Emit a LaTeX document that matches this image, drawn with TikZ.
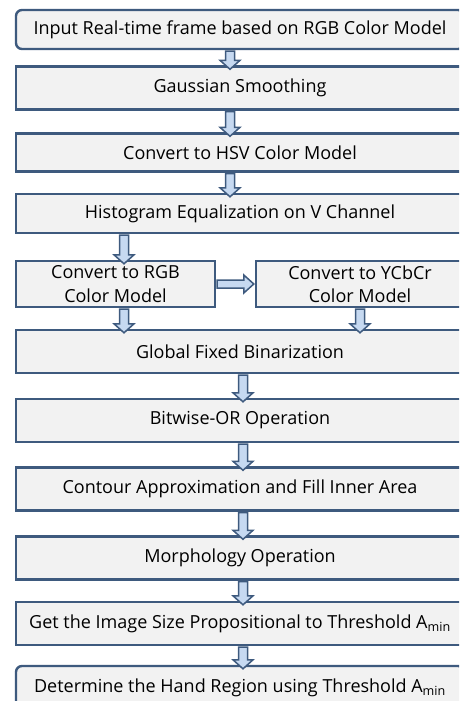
\documentclass[tikz,border=0pt]{standalone}
\usepackage{fontspec}
\setmainfont{Open Sans}
\usetikzlibrary{calc}
\definecolor{edge}{HTML}{3E5A7E}
\definecolor{boxfill}{HTML}{F2F2F2}
\definecolor{arrfill}{HTML}{C6D9F1}
\begin{document}
\begin{tikzpicture}[x=1pt,y=-1pt,
  stepbox/.style={draw=edge,line width=2.4pt,fill=boxfill,inner sep=0pt,
    font=\fontsize{18}{23.5}\selectfont,align=center},
  blockarrow/.style={draw=edge,line width=1.5pt,fill=arrfill,line join=miter}]
\useasboundingbox (0,0) rectangle (459,701);
\clip (0,0) rectangle (459,701);
% down arrow from the bottom of box #2 to the top of box #3, at the x of coordinate #1
\newcommand\downarr[3]{%
  \draw[blockarrow] let \p1=(#2.south -| #1), \p2=(#3.north -| #1) in
    (\x1-4.5pt,\y1-1pt) -- (\x1+4.5pt,\y1-1pt) -- (\x1+4.5pt,\y2+5pt)
    -- (\x1+10pt,\y2+5pt) -- (\x1,\y2-4pt) -- (\x1-10pt,\y2+5pt)
    -- (\x1-4.5pt,\y2+5pt) -- cycle;}
% step boxes
\node[stepbox,rounded corners=6pt,minimum width=448pt,minimum height=39pt] (b1) at (240,29.5)
  {Input Real-time frame based on RGB Color Model};
\node[stepbox,minimum width=448pt,minimum height=43pt] (b2) at (240,88)
  {Gaussian Smoothing};
\node[stepbox,minimum width=448pt,minimum height=38pt] (b3) at (240,152.5)
  {Convert to HSV Color Model};
\node[stepbox,minimum width=448pt,minimum height=39pt] (b4) at (240,213.5)
  {Histogram Equalization on V Channel};
\node[stepbox,minimum width=199pt,minimum height=46pt] (b5a) at (115.5,284)
  {Convert to RGB\\Color Model};
\node[stepbox,minimum width=208pt,minimum height=46pt] (b5b) at (360,284)
  {Convert to YCbCr\\Color Model};
\node[stepbox,minimum width=448pt,minimum height=43pt] (b6) at (240,351.5)
  {Global Fixed Binarization};
\node[stepbox,minimum width=448pt,minimum height=43pt] (b7) at (240,420.5)
  {Bitwise-OR Operation};
\node[stepbox,minimum width=448pt,minimum height=43pt] (b8) at (240,489)
  {Contour Approximation and Fill Inner Area};
\node[stepbox,minimum width=448pt,minimum height=43pt] (b9) at (240,558)
  {Morphology Operation};
\node[stepbox,minimum width=448pt,minimum height=43pt] (b10) at (240,623.5)
  {Get the Image Size Propositional to Threshold A\textsubscript{min}};
\node[stepbox,rounded corners=6pt,minimum width=448pt,minimum height=43pt] (b11) at (240,687.5)
  {Determine the Hand Region using Threshold A\textsubscript{min}};
% arrow columns
\coordinate (xtop) at (230,0);
\coordinate (xleft) at (124,0);
\coordinate (xright) at (360,0);
\coordinate (xlow) at (243,0);
% connectors
\downarr{xtop}{b1}{b2}
\downarr{xtop}{b2}{b3}
\downarr{xtop}{b3}{b4}
\downarr{xleft}{b4}{b5a}
\downarr{xleft}{b5a}{b6}
\downarr{xright}{b5b}{b6}
\downarr{xlow}{b6}{b7}
\downarr{xlow}{b7}{b8}
\downarr{xlow}{b8}{b9}
\downarr{xlow}{b9}{b10}
\downarr{xlow}{b10}{b11}
% sideways arrow between the two colour conversions
\draw[blockarrow] let \p1=(b5a.east), \p2=(b5b.west) in
  (\x1+1pt,\y1+4pt) -- (\x2-11pt,\y1+4pt) -- (\x2-11pt,\y1+9pt) -- (\x2-1pt,\y1)
  -- (\x2-11pt,\y1-9pt) -- (\x2-11pt,\y1-4pt) -- (\x1+1pt,\y1-4pt) -- cycle;
\end{tikzpicture}
\end{document}
